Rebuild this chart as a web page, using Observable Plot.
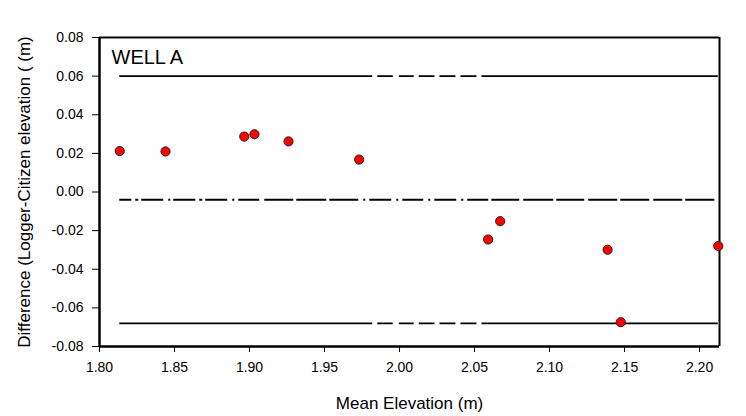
<!DOCTYPE html>
<html><head><meta charset="utf-8">
<script src="https://cdn.jsdelivr.net/npm/d3@7"></script>
<script src="https://cdn.jsdelivr.net/npm/@observablehq/plot@0.6"></script>
<style>
body{margin:0;background:#fff}
g[aria-label="x-axis label"], g[aria-label="y-axis label"]{font-size:17px}
</style></head><body><div id="chart"></div>
<script>
const meanElevation = [1.8135, 1.8440, 1.8965, 1.9033, 1.9260, 1.9731, 2.0591, 2.0671, 2.1387, 2.1475, 2.2125];
const difference    = [0.0212, 0.0210, 0.0287, 0.0299, 0.0262, 0.0168, -0.0246, -0.0151, -0.0299, -0.0674, -0.0280];
const limitLines = [0.06, -0.068];
const meanLine = [-0.004];
const xTicks = [1.80, 1.85, 1.90, 1.95, 2.00, 2.05, 2.10, 2.15, 2.20];
const yTicks = [-0.08, -0.06, -0.04, -0.02, 0.00, 0.02, 0.04, 0.06, 0.08];
const xDomain = [1.80, 2.2133];
const yDomain = [-0.08, 0.08];
const panelLabel = ["WELL A"];
const xLabel = "Mean Elevation (m)";
const yLabel = "Difference (Logger-Citizen elevation ( (m)";

const points = meanElevation.map((x, i) => ({x, y: difference[i]}));
const xStart = d3.min(meanElevation), xEnd = d3.max(meanElevation);
const fmt = d => d.toFixed(2);

const limitDash = "253,5,15.5,6,15,5,15.7,5,16,5,16,5,400";
const meanDash = "12,4,3,3,22,5,2,3,22,4,3,3,22,5,2,4,21,5,29,3,30,3,29,5,2,4,22,5,2,4,21,5,2,4,22,5,2,4,21,3,28,4,30,3,28,4,29,3,29,4,29,3,29,4,20";

const chart = Plot.plot({
  width: 746,
  height: 416,
  marginLeft: 99,
  marginRight: 27,
  marginTop: 37,
  marginBottom: 70,
  style: {fontFamily: "Arial, 'Liberation Sans', sans-serif", fontSize: "14px", background: "#fff", color: "#000"},
  x: {domain: xDomain},
  y: {domain: yDomain},
  marks: [
    Plot.ruleY(limitLines, {x1: () => xStart, x2: () => xEnd, stroke: "#000", strokeWidth: 1.8, strokeDasharray: limitDash}),
    Plot.ruleY(meanLine, {x1: () => xStart, x2: () => xEnd, stroke: "#000", strokeWidth: 1.8, strokeDasharray: meanDash}),
    Plot.ruleY([yDomain[1]], {stroke: "#000", strokeWidth: 1.8}),
    Plot.ruleX([xDomain[1]], {stroke: "#000", strokeWidth: 2}),
    Plot.axisX({ticks: xTicks, tickFormat: fmt, tickSize: 6, tickPadding: 10, label: xLabel, labelAnchor: "center", labelOffset: 62, labelArrow: "none"}),
    Plot.axisY({ticks: yTicks, tickFormat: fmt, tickSize: 7, tickPadding: 9, label: yLabel, labelAnchor: "center", labelOffset: 82, labelArrow: "none"}),
    Plot.ruleX([xDomain[0]], {stroke: "#000", strokeWidth: 2.5}),
    Plot.ruleY([yDomain[0]], {stroke: "#000", strokeWidth: 2.5}),
    Plot.text(panelLabel, {frameAnchor: "top-left", dx: 12, dy: 12, fontSize: 20, textAnchor: "start", lineAnchor: "top", fill: "#000"}),
    Plot.dot(points, {x: "x", y: "y", r: 4.6, fill: "#ff0000", stroke: "#222", strokeWidth: 1})
  ]
});
document.getElementById("chart").appendChild(chart);
</script></body></html>
